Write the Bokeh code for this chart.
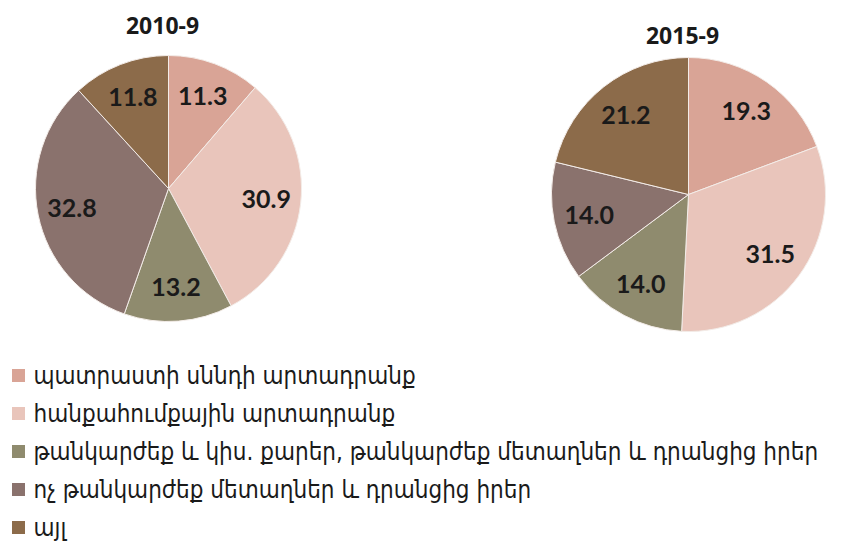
import math
from bokeh.plotting import figure
from bokeh.models import Range1d, ColumnDataSource
from bokeh.core.properties import value
from bokeh.embed import file_html
from bokeh.resources import INLINE

# ---- data ----
categories = [
    "պատրաստի սննդի արտադրանք",
    "հանքահումքային արտադրանք",
    "թանկարժեք և կիս. քարեր, թանկարժեք մետաղներ և դրանցից իրեր",
    "ոչ թանկարժեք մետաղներ և դրանցից  իրեր",
    "այլ",
]
titles = ["2010-9", "2015-9"]
values_2010 = [11.3, 30.9, 13.2, 32.8, 11.8]
values_2015 = [19.3, 31.5, 14.0, 14.0, 21.2]
value_labels_2010 = ["11.3", "30.9", "13.2", "32.8", "11.8"]
value_labels_2015 = ["19.3", "31.5", "14.0", "14.0", "21.2"]
colors = ["#D9A496", "#E9C5BB", "#8F8B6E", "#8A726D", "#8C6B4A"]

# ---- layout (image pixel coords; y flipped below) ----
W, H = 856, 545
p = figure(width=W, height=H, output_backend="svg", toolbar_location=None,
           x_range=Range1d(0, W), y_range=Range1d(-H, 0),
           min_border=0)
p.axis.visible = False
p.grid.visible = False
p.outline_line_color = None
p.background_fill_color = "white"
p.border_fill_color = "white"

pies = [
    dict(cx=168, cy=188, r=133, vals=values_2010, labs=value_labels_2010,
         title=titles[0], tx=162, ty=25),
    dict(cx=688, cy=194, r=137, vals=values_2015, labs=value_labels_2015,
         title=titles[1], tx=682, ty=35),
]

for pie in pies:
    vals = pie["vals"]
    total = sum(vals)
    starts, ends, lx, ly = [], [], [], []
    cum = 0.0
    for v in vals:
        a0 = math.pi / 2 - 2 * math.pi * cum / total
        cum += v
        a1 = math.pi / 2 - 2 * math.pi * cum / total
        starts.append(a0)
        ends.append(a1)
        mid = (a0 + a1) / 2
        lx.append(pie["cx"] + 0.74 * pie["r"] * math.cos(mid))
        ly.append(-pie["cy"] + 0.74 * pie["r"] * math.sin(mid))
    src = ColumnDataSource(dict(start=starts, end=ends, color=colors))
    p.wedge(x=pie["cx"], y=-pie["cy"], radius=pie["r"], start_angle="start",
            end_angle="end", direction="clock", fill_color="color",
            line_color="#F3ECE8", line_width=1, source=src)
    p.text(x=lx, y=ly, text=pie["labs"], text_align="center",
           text_baseline="middle", text_font=value("Lato"),
           text_font_style="bold", text_font_size="25px", text_color="#1a1a1a")
    p.text(x=[pie["tx"]], y=[-pie["ty"]], text=[pie["title"]],
           text_align="center", text_baseline="middle",
           text_font=value("Open Sans"), text_font_style="bold",
           text_font_size="23px", text_color="#1a1a1a")

# ---- legend ----
leg_y0, leg_dy = 375, 38
sq_x, txt_x = 18, 33
ys = [-(leg_y0 + i * leg_dy) for i in range(len(categories))]
p.scatter(x=[sq_x] * len(categories), y=ys, marker="square", size=13,
          fill_color=colors, line_color=None)
p.text(x=[txt_x] * len(categories), y=ys, text=categories, text_align="left",
       text_baseline="middle", text_font=value("DejaVu Sans Condensed"),
       text_font_size="24px", text_color="#1a1a1a")

open("out.html", "w").write(file_html(p, INLINE))
